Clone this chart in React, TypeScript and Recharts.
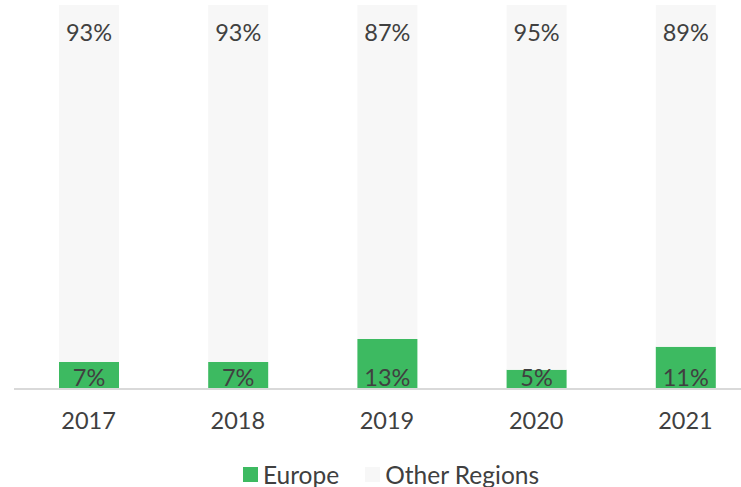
import { BarChart, Bar, XAxis, YAxis, Legend, LabelList } from "recharts";

const years = ["2017", "2018", "2019", "2020", "2021"];
const europe = [7, 7, 13, 5, 11];
const otherRegions = [93, 93, 87, 95, 89];

const GREEN = "#3dba61";
const GRAY = "#f7f7f7";
const TEXT = "#404040";
const FONT = "Lato, 'Open Sans', sans-serif";
const FONT_SIZE = 23.5;

const data = years.map((year, i) => ({
	year,
	europe: europe[i],
	other: otherRegions[i],
}));

function EuropeLabel(props: any) {
	const { x, y, width, height, value } = props;
	return (
		<text
			x={x + width / 2}
			y={y + height - 12}
			textAnchor="middle"
			dominantBaseline="central"
			fill={TEXT}
			fontSize={FONT_SIZE}
			fontFamily={FONT}
		>
			{value}%
		</text>
	);
}

function OtherLabel(props: any) {
	const { x, y, width, value } = props;
	return (
		<text
			x={x + width / 2}
			y={y + 27}
			textAnchor="middle"
			dominantBaseline="central"
			fill={TEXT}
			fontSize={FONT_SIZE}
			fontFamily={FONT}
		>
			{value}%
		</text>
	);
}

function ChartLegend() {
	const items = [
		{ name: "Europe", color: GREEN },
		{ name: "Other Regions", color: GRAY },
	];
	return (
		<div
			style={{
				display: "flex",
				justifyContent: "center",
				alignItems: "center",
				height: 26,
				gap: 26,
				fontFamily: FONT,
				fontSize: 24.5,
				color: TEXT,
				paddingLeft: 8,
			}}
		>
			{items.map((it) => (
				<div key={it.name} style={{ display: "flex", alignItems: "center" }}>
					<span
						style={{
							display: "inline-block",
							width: 15,
							height: 15,
							background: it.color,
							marginRight: 5,
						}}
					/>
					{it.name}
				</div>
			))}
		</div>
	);
}

export default function App() {
	return (
		<div
			style={{
				position: "absolute",
				left: 0,
				top: 0,
				width: 741,
				height: 487,
				overflow: "hidden",
				background: "#fff",
			}}
		>
			<BarChart
				width={774}
				height={487}
				data={data}
				margin={{ top: 5, right: 14, bottom: 0, left: 14 }}
				barSize={60}
			>
				<XAxis
					dataKey="year"
					axisLine={{ stroke: "#d9d9d9", strokeWidth: 2 }}
					tickLine={false}
					tickSize={0}
					tickMargin={23}
					height={72}
					tick={{ fill: TEXT, fontSize: FONT_SIZE, fontFamily: FONT }}
				/>
				<YAxis hide domain={[0, 100]} />
				<Legend verticalAlign="bottom" content={() => <ChartLegend />} />
				<Bar dataKey="europe" name="Europe" stackId="a" fill={GREEN} isAnimationActive={false}>
					<LabelList dataKey="europe" content={EuropeLabel} />
				</Bar>
				<Bar dataKey="other" name="Other Regions" stackId="a" fill={GRAY} isAnimationActive={false}>
					<LabelList dataKey="other" content={OtherLabel} />
				</Bar>
			</BarChart>
		</div>
	);
}
